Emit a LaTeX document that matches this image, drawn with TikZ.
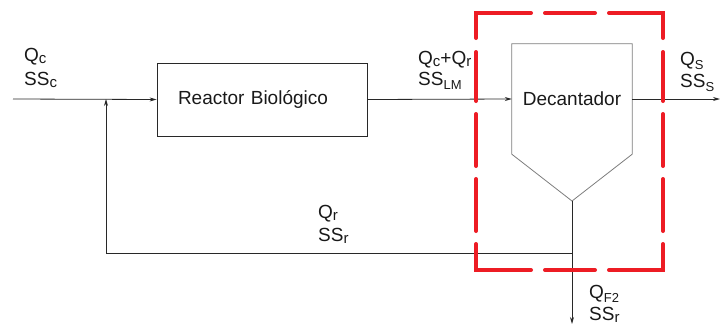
\documentclass[tikz,border=0pt]{standalone}
\usepackage{fontspec}
\setmainfont{Liberation Sans}
\usetikzlibrary{arrows.meta}
\definecolor{boxred}{RGB}{237,28,36}
\definecolor{lineblk}{RGB}{40,40,40}
\definecolor{decgray}{RGB}{125,125,125}
\newcommand{\lsub}[1]{\raisebox{-1.5pt}{\fontsize{15}{15}\selectfont #1}}
\newcommand{\usub}[1]{\raisebox{-4pt}{\fontsize{13}{13}\selectfont #1}}
\begin{document}
\begin{tikzpicture}[x=1pt,y=-1pt,
  every node/.style={font=\fontsize{19}{22}\selectfont, text=black!90},
  flow/.style={draw=lineblk, line width=0.8pt},
  arr/.style={flow, -{Stealth[length=7pt,width=4pt]}},
  box/.style={draw=lineblk, line width=0.8pt, minimum width=210pt, minimum height=73pt,
              text width=168pt, inner xsep=21pt, align=left},
  decbox/.style={minimum width=120pt, minimum height=110pt, inner sep=0pt},
  lbl/.style={anchor=base west, inner sep=0pt},
  redbox/.style={draw=boxred, line width=4pt, line cap=round, line join=miter}]
\useasboundingbox (0,0) rectangle (721,325);

% nodes
\node[box] (reactor) at (262,99.5) {Reactor Biológico};
\node[decbox] (dec) at (572,99) {\raisebox{-2.5pt}{Decantador}};
\coordinate (tip) at (572,201);
\draw[draw=decgray, line width=0.8pt] (dec.north west) -- (dec.north east) -- (dec.south east)
   -- (tip) -- (dec.south west) -- cycle;

\coordinate (in) at (13,99);
\coordinate (junc) at (106,99);
\coordinate (out) at (720,99);
\coordinate (bot) at (572,324);
\coordinate (rj) at (572,253);

% connectors
\draw[arr] (in) -- (reactor.west);
\draw[arr] (reactor.east) -- (dec.west);
\draw[arr] (dec.east) -- (out);
\draw[arr] (tip) -- (bot);
\draw[arr] (rj) -| (junc);

% labels
\node[lbl] (l1a) at (24,61.6) {Q\lsub{c}};
\node[lbl] (l1b) at (24,85.6) {SS\lsub{c}};
\node[lbl] (l2a) at (418,64.6) {Q\lsub{c}+Q\lsub{r}};
\node[lbl] (l2b) at (418,85.6) {SS\usub{LM}};
\node[lbl] (l3a) at (680,65) {Q\usub{S}};
\node[lbl] (l3b) at (680,87) {SS\usub{S}};
\node[lbl] (l4a) at (318,218.6) {Q\lsub{r}};
\node[lbl] (l4b) at (318,241.6) {SS\lsub{r}};
\node[lbl] (l5a) at (589,298.6) {Q\usub{F2}};
\node[lbl] (l5b) at (589,320.6) {SS\lsub{r}};

% red dashed boundary
\draw[redbox] (476,38) -- (476,13) -- (531,13);
\draw[redbox] (545,13) -- (595,13);
\draw[redbox] (609,13) -- (663,13) -- (663,38);
\foreach \xx in {476,663}{
  \draw[redbox] (\xx,52) -- (\xx,101);
  \draw[redbox] (\xx,114) -- (\xx,166);
  \draw[redbox] (\xx,179) -- (\xx,231);
}
\draw[redbox] (476,244) -- (476,270) -- (531,270);
\draw[redbox] (545,270) -- (595,270);
\draw[redbox] (609,270) -- (663,270) -- (663,244);
\end{tikzpicture}
\end{document}
